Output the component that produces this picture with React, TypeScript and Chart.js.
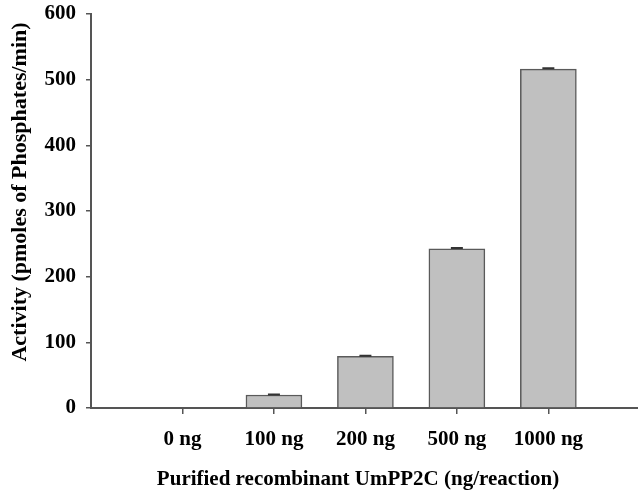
import React, { useEffect, useRef } from "react";
import { Chart, registerables } from "chart.js";

Chart.register(...registerables);

const categories = ["0 ng", "100 ng", "200 ng", "500 ng", "1000 ng"];
const activity = [0, 19.8, 78.5, 242.5, 516];
const errors = [0, 0.6, 1, 1, 1.5];
const yTicks = [0, 100, 200, 300, 400, 500, 600];
const xTitle = "Purified recombinant UmPP2C (ng/reaction)";
const yTitle = "Activity (pmoles of Phosphates/min)";

const FONT = "'Liberation Serif', 'Times New Roman', serif";

export default function App() {
  const ref = useRef<HTMLCanvasElement | null>(null);
  useEffect(() => {
    if (!ref.current) return;
    const errorBars = {
      id: "errorBars",
      afterDatasetsDraw(chart: any) {
        const ctx = chart.ctx;
        const xs = chart.scales.x;
        const ys = chart.scales.y;
        ctx.save();
        ctx.strokeStyle = "#333";
        ctx.lineWidth = 2;
        activity.forEach((v, i) => {
          const e = errors[i];
          if (!e) return;
          const cx = xs.getPixelForValue(i + 1);
          const top = ys.getPixelForValue(v + e);
          const bot = ys.getPixelForValue(v);
          ctx.beginPath();
          ctx.moveTo(cx, bot);
          ctx.lineTo(cx, top);
          ctx.moveTo(cx - 6, top);
          ctx.lineTo(cx + 6, top);
          ctx.stroke();
        });
        ctx.restore();
      },
    };
    const titles = {
      id: "titles",
      afterDraw(chart: any) {
        const ctx = chart.ctx;
        ctx.save();
        ctx.fillStyle = "#000";
        ctx.textAlign = "center";
        ctx.textBaseline = "middle";
        ctx.font = `bold 21px ${FONT}`;
        ctx.fillText(xTitle, 358, 480);
        ctx.font = `bold 22px ${FONT}`;
        ctx.translate(20, 192);
        ctx.rotate(-Math.PI / 2);
        ctx.fillText(yTitle, 0, 0);
        ctx.restore();
      },
    };
    const chart = new Chart(ref.current, {
      type: "bar",
      data: {
        datasets: [
          {
            data: activity.map((v, i) => ({ x: i + 1, y: v })),
            backgroundColor: "#c0c0c0",
            borderColor: "#5a5a5a",
            borderWidth: 1.5,
            barThickness: 56,
          },
        ],
      },
      options: {
        responsive: false,
        animation: false,
        layout: { padding: { top: 14, right: 0, left: 0, bottom: 0 } },
        plugins: { legend: { display: false }, tooltip: { enabled: false } },
        scales: {
          x: {
            type: "linear",
            offset: false,
            min: 0,
            max: 5.98,
            afterBuildTicks: (s: any) => {
              s.ticks = categories.map((_, i) => ({ value: i + 1 }));
            },
            afterFit: (s: any) => {
              s.height = 85;
              s.paddingLeft = 0;
              s.paddingRight = 0;
            },
            ticks: {
              autoSkip: false,
              maxRotation: 0,
              padding: 13,
              color: "#000",
              font: { family: FONT, size: 21, weight: "bold" },
              callback: (v: any) => categories[Math.round(v) - 1] ?? "",
            },
            grid: {
              display: true,
              offset: false,
              drawOnChartArea: false,
              drawTicks: true,
              tickLength: 6,
              color: "#555",
              lineWidth: 1.5,
            },
            border: { display: true, color: "#555", width: 2 },
          },
          y: {
            min: 0,
            max: 600,
            afterBuildTicks: (s: any) => {
              s.ticks = yTicks.map((v) => ({ value: v }));
            },
            afterFit: (s: any) => {
              s.width = 91;
              s.paddingTop = 0;
              s.paddingBottom = 0;
            },
            ticks: {
              padding: 10,
              color: "#000",
              font: { family: FONT, size: 21, weight: "bold" },
            },
            grid: {
              display: true,
              drawOnChartArea: false,
              drawTicks: true,
              tickLength: 5,
              color: "#555",
              lineWidth: 1.5,
            },
            border: { display: true, color: "#555", width: 2 },
          },
        },
      },
      plugins: [errorBars, titles],
    });
    return () => chart.destroy();
  }, []);
  return (
    <div style={{ position: "fixed", left: 0, top: 0, width: 638, height: 493, background: "#fff" }}>
      <canvas ref={ref} width={638} height={493} />
    </div>
  );
}
